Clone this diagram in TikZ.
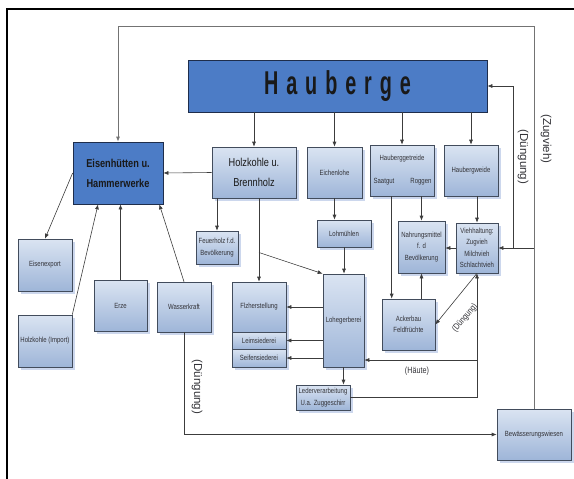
\documentclass[tikz,border=0pt]{standalone}
\usepackage{fontspec}
\setmainfont{Liberation Sans}[FakeStretch=0.8]
\newfontfamily\plainFont{Liberation Sans}
\newfontfamily\haubergeFont{Liberation Sans}[FakeStretch=0.6, LetterSpace=24]
\usetikzlibrary{arrows.meta, shadows, calc}
\tikzstyle{pixels} = [x = 1pt, y = -1pt]
\definecolor{lightTop}{RGB}{218,228,242}
\definecolor{lightBottom}{RGB}{158,181,216}
\definecolor{boxBorder}{RGB}{66,76,92}
\definecolor{darkBlue}{RGB}{76,124,198}
\definecolor{darkBorder}{RGB}{30,45,75}
\definecolor{shadowBlue}{RGB}{182,198,230}
\definecolor{lineGray}{RGB}{60,60,60}
\definecolor{outerGray}{RGB}{115,115,115}
\definecolor{textGray}{RGB}{50,50,55}
\newcommand{\smallText}{\fontsize{7.5}{11.5}\selectfont}
\newcommand{\bigText}{\fontsize{11.5}{20}\selectfont}
\tikzstyle{lightBoxStyle} = [draw=boxBorder, top color=lightTop, bottom color=lightBottom, line width=.6pt, drop shadow={shadow xshift=2.5pt, shadow yshift=-2.5pt, fill=shadowBlue, opacity=.7}, inner sep=1pt, align=center, text=textGray, font=\smallText]
\tikzstyle{darkBoxStyle} = [draw=darkBorder, fill=darkBlue, line width=.7pt, align=center, text=black!90]
\tikzstyle{innerText} = [inner sep=0pt, text=textGray, font=\smallText]
\tikzstyle{arrowLine} = [draw=lineGray, line width=.6pt, -{Latex[length=5pt, width=4pt]}]
\tikzstyle{outerLine} = [draw=outerGray, line width=.8pt, -{Latex[length=5pt, width=4pt]}]
\tikzstyle{frameLine} = [draw=black, line width=1.5pt]
\tikzstyle{lineLabel} = [inner sep=1pt, text=textGray, font=\fontsize{9}{10}\selectfont]
\tikzstyle{sideLabel} = [inner sep=1pt, text=textGray, font=\plainFont\fontsize{11.5}{12}\selectfont]
\newcommand{\lightBox}[6][]{\node [lightBoxStyle, minimum width = #4, minimum height = #5, #1] (#2) at (#3) {#6};}
\begin{document}
\begin{tikzpicture}[pixels]
  \useasboundingbox (0,0) rectangle (574,479);
  \draw [frameLine] (574,9) -- (7,9) -- (7,479);

  \node [darkBoxStyle, minimum width = 299pt, minimum height = 52pt, font=\haubergeFont\fontsize{33}{33}\selectfont\bfseries] (hauberge) at (337.5,86) {Hauberge};
  \node [darkBoxStyle, minimum width = 90pt, minimum height = 62pt, font=\bigText\bfseries] (eisen) at (118,173) {Eisenhütten u.\\Hammerwerke};

  \lightBox[font=\bigText, text=black!90]{holz}{254,172.5}{84pt}{51pt}{Holzkohle u.\\Brennholz}
  \lightBox{eichen}{334.5,172.5}{55pt}{51pt}{Eichenlohe}
  \lightBox{getreide}{402,170.5}{64pt}{51pt}{}
  \lightBox{weide}{471,170.5}{54pt}{51pt}{Haubergweide}
  \lightBox{feuer}{217,247.5}{42pt}{33pt}{Feuerholz f.d.\\Bevölkerung}
  \lightBox{lohm}{344,233.5}{54pt}{27pt}{Lohmühlen}
  \lightBox{nahrung}{421.5,247}{47pt}{52pt}{Nahrungsmittel\\f. d\\Bevölkerung}
  \lightBox{vieh}{477,248}{42pt}{50pt}{Viehhaltung:\\Zugvieh\\Milchvieh\\Schlachtvieh}
  \lightBox{export}{45,265}{54pt}{52pt}{Eisenexport}
  \lightBox{import}{45,341}{54pt}{52pt}{Holzkohle (Import)}
  \lightBox{erze}{120.5,305.5}{53pt}{51pt}{Erze}
  \lightBox{wasser}{184,307}{54pt}{50pt}{Wasserkraft}
  \lightBox{flz}{259,307}{54pt}{50pt}{Flzherstellung}
  \lightBox{leim}{259,340.5}{54pt}{17pt}{Leimsiederei}
  \lightBox{seife}{259,358}{54pt}{18pt}{Seifensiederei}
  \lightBox{lohg}{343.5,320.5}{41pt}{93pt}{Lohegerberei}
  \lightBox{acker}{408.5,324.5}{53pt}{51pt}{Ackerbau\\Feldfrüchte}
  \lightBox{leder}{323,397.5}{54pt}{25pt}{Lederverarbeitung\\U.a. Zuggeschirr}
  \lightBox{bew}{534,434.5}{74pt}{51pt}{Bewässerungswiesen}

  \node [innerText] (getreideName) at (402,159) {Hauberggetreide};
  \node [innerText] (saatgut) at (384,182) {Saatgut};
  \node [innerText] (roggen) at (421,182) {Roggen};

  \foreach \target in {holz, eichen, getreide, weide} {
    \draw [arrowLine] (hauberge.south -| \target) -- (\target.north);
  }
  \draw [arrowLine] (holz.west) -- (eisen.east);
  \draw [arrowLine] (holz.south -| feuer) -- (feuer.north);
  \draw [arrowLine] (holz.south -| flz) -- (flz.north);
  \coordinate (holzSplit) at ($(holz.south -| flz)!.65!(flz.north)$);
  \draw [arrowLine] (holzSplit) -- (lohg.north west);
  \draw [arrowLine] (eichen.south) -- (eichen.south |- lohm.north);
  \draw [arrowLine] (lohm.south) -- (lohm.south |- lohg.north);
  \draw [arrowLine] (getreide.south -| nahrung) -- (nahrung.north);
  \coordinate (saatgutDrop) at ([xshift=22pt]getreide.south west);
  \draw [arrowLine] (saatgutDrop) -- (saatgutDrop |- acker.north);
  \draw [arrowLine] (acker.north -| nahrung) -- (nahrung.south);
  \draw [arrowLine] (weide.south -| vieh) -- (vieh.north);
  \draw [arrowLine] (vieh.west) -- (vieh.west -| nahrung.east);

  \coordinate (topLevel) at (0,26);
  \draw [outerLine] (bew.north) -- (bew.north |- topLevel) -| (eisen.north);
  \draw [arrowLine] (bew.north |- vieh.east) -- (vieh.east);
  \coordinate (duengTurn) at ($(vieh.east)!.42!(bew.north |- vieh.east)$);
  \draw [arrowLine] (duengTurn) |- (hauberge.east);
  \node [sideLabel, rotate=-90] (duengungRight) at (523,157) {(Düngung)};
  \node [sideLabel, rotate=-90] (zugvieh) at (546,139) {(Zugvieh)};

  \draw [arrowLine] (eisen.west) -- (export.north);
  \draw [arrowLine] (import.north east) -- ($(eisen.south west)!.28!(eisen.south east)$);
  \draw [arrowLine] (erze.north) -- (erze.north |- eisen.south);
  \draw [arrowLine] (wasser.north) -- ([xshift=-4pt]eisen.south east);
  \draw [arrowLine] (wasser.south) |- (bew.west);
  \node [sideLabel, rotate=-90] (duengungLeft) at (197,387) {(Düngung)};

  \draw [arrowLine] (flz.east -| lohg.west) -- (flz.east);
  \draw [arrowLine] (leim.east -| lohg.west) -- (leim.east);
  \draw [arrowLine] (seife.east -| lohg.west) -- (seife.east);
  \draw [arrowLine] (lohg.south) -- (lohg.south |- leder.north);
  \draw [arrowLine] (leder.east) -| (vieh.south);
  \coordinate (haeuteLevel) at (0,360);
  \draw [arrowLine] (vieh.south |- haeuteLevel) -- (haeuteLevel -| lohg.east);
  \node [lineLabel] (haeute) at (417,371) {(Häute)};
  \draw [arrowLine] (vieh.south) -- (acker.east);
  \node [lineLabel, rotate=50] (duengungMid) at (465,318) {(Düngung)};
\end{tikzpicture}
\end{document}
